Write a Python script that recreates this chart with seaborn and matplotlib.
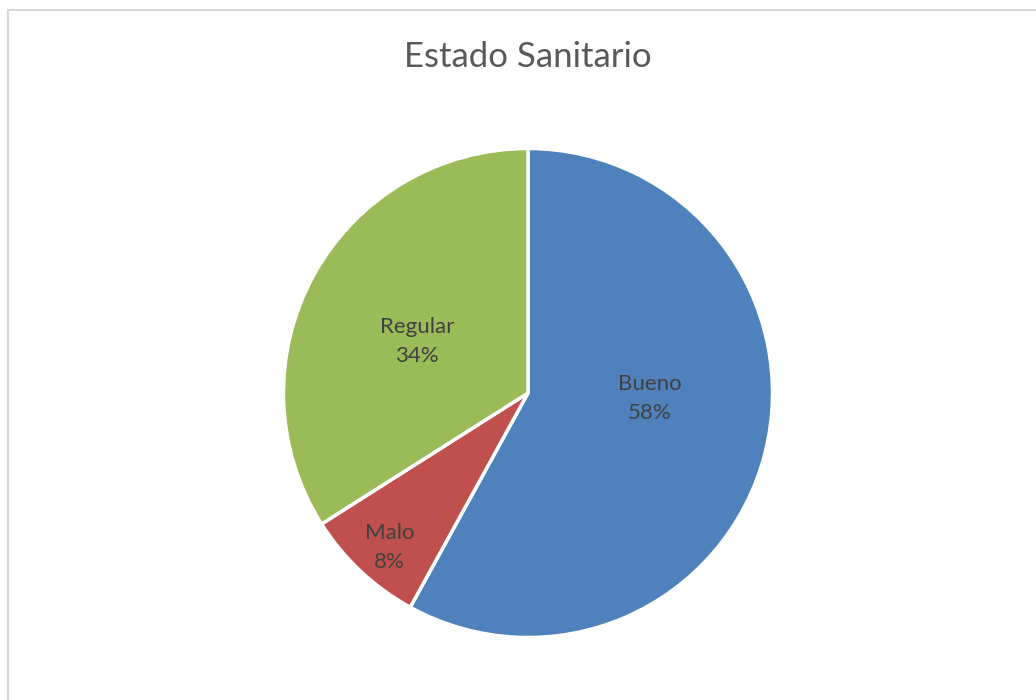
import matplotlib
matplotlib.use("Agg")
import matplotlib.pyplot as plt
import numpy as np
import seaborn as sns
from matplotlib.patches import Rectangle

# Estado sanitario del arbolado (porcentajes)
categorias = ["Bueno", "Malo", "Regular"]
porcentajes = [58, 8, 34]
colores = ["#4F81BD", "#C0504D", "#9BBB59"]

# Posición de cada etiqueta: distancia radial y ajuste angular (grados)
distancia_etiqueta = [0.5, 0.848, 0.5]
ajuste_angulo = [12.0, 1.3, 4.0]

sns.set_theme(style="white")
plt.rcParams["font.family"] = ["Lato", "DejaVu Sans"]

fig = plt.figure(figsize=(10.36, 7.0), dpi=100)
fig.patch.set_facecolor("white")

# Marco del gráfico
fig.patches.append(Rectangle((7.5 / 1036, -0.05), 1.2, 1.05 - 9.5 / 700,
                             transform=fig.transFigure, fill=False,
                             edgecolor="#d9d9d9", linewidth=1.5, zorder=0))

ax = fig.add_axes([283.5 / 1036, 62.5 / 700, 489 / 1036, 489 / 700])
wedges, _ = ax.pie(porcentajes, colors=colores, startangle=90, counterclock=False,
                   wedgeprops=dict(edgecolor="white", linewidth=2.5))
ax.set_xlim(-1, 1)
ax.set_ylim(-1, 1)
ax.set_aspect("equal")
ax.axis("off")

for w, cat, pct, d, da in zip(wedges, categorias, porcentajes,
                              distancia_etiqueta, ajuste_angulo):
    ang = np.deg2rad((w.theta1 + w.theta2) / 2 + da)
    ax.text(d * np.cos(ang), d * np.sin(ang), f"{cat}\n{pct}%",
            ha="center", va="center", fontsize=16, color="#404040",
            linespacing=1.55)

fig.text(528 / 1036, 1 - 57 / 700, "Estado Sanitario", ha="center", va="center",
         fontsize=25, color="#595959")

fig.savefig("out.png", dpi=100, facecolor="white")
